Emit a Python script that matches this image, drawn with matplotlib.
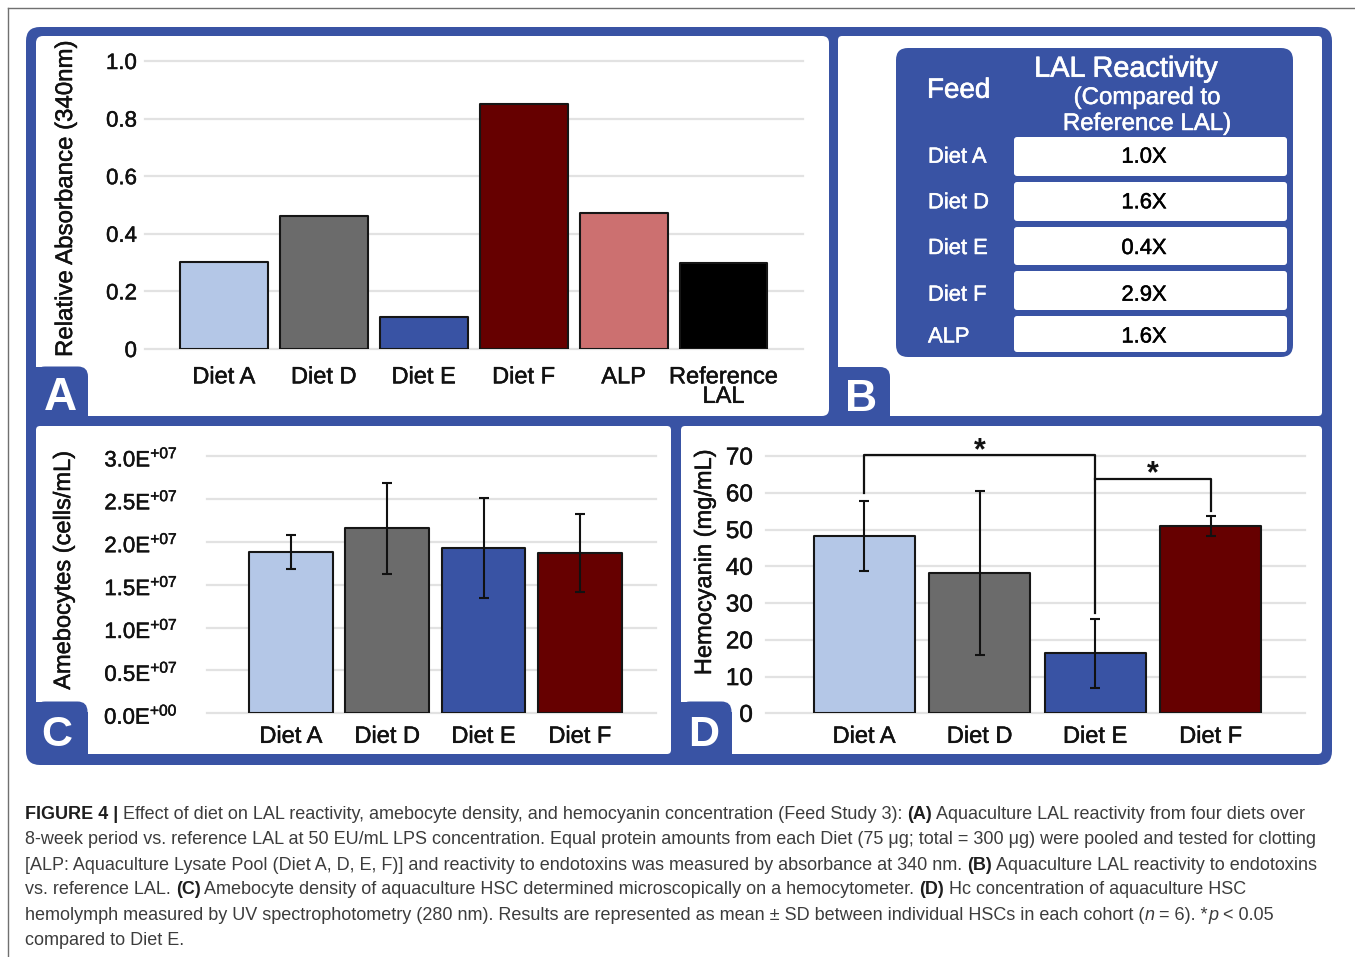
import matplotlib
matplotlib.use("Agg")
import matplotlib.pyplot as plt
from matplotlib.patches import FancyBboxPatch, Rectangle
import matplotlib.patheffects as pe

# ---------------- data ----------------
a_categories = ["Diet A", "Diet D", "Diet E", "Diet F", "ALP", "Reference\nLAL"]
a_values = [0.302, 0.462, 0.112, 0.851, 0.473, 0.297]
a_yticks = [0, 0.2, 0.4, 0.6, 0.8, 1.0]
a_yticklabels = ["0", "0.2", "0.4", "0.6", "0.8", "1.0"]

b_feeds = ["Diet A", "Diet D", "Diet E", "Diet F", "ALP"]
b_reactivity = ["1.0X", "1.6X", "0.4X", "2.9X", "1.6X"]

c_categories = ["Diet A", "Diet D", "Diet E", "Diet F"]
c_values = [1.884e7, 2.157e7, 1.930e7, 1.872e7]
c_errors = [0.20e7, 0.53e7, 0.585e7, 0.456e7]
c_yticks = [0, 0.5e7, 1.0e7, 1.5e7, 2.0e7, 2.5e7, 3.0e7]
c_yticklabels = ["0.0E$^{+00}$", "0.5E$^{+07}$", "1.0E$^{+07}$", "1.5E$^{+07}$",
                 "2.0E$^{+07}$", "2.5E$^{+07}$", "3.0E$^{+07}$"]

d_categories = ["Diet A", "Diet D", "Diet E", "Diet F"]
d_values = [48.3, 38.1, 16.3, 51.0]
d_errors = [9.5, 22.3, 9.3, 2.8]
d_yticks = [0, 10, 20, 30, 40, 50, 60, 70]

colors_a = ["#b4c7e7", "#6b6b6b", "#3953a4", "#660000", "#cc7070", "#000000"]
colors_cd = ["#b4c7e7", "#6b6b6b", "#3953a4", "#660000"]
BLUE = "#3953a4"
INK = "#111111"

# ---------------- figure setup ----------------
W, H = 1355, 957
plt.rcParams["font.family"] = ["Liberation Sans", "DejaVu Sans"]
plt.rcParams["mathtext.fontset"] = "custom"
plt.rcParams["mathtext.rm"] = "Liberation Sans"
plt.rcParams["mathtext.it"] = "Liberation Sans:italic"
plt.rcParams["mathtext.bf"] = "Liberation Sans:bold"

fig = plt.figure(figsize=(W / 100, H / 100), dpi=100)
fig.patch.set_facecolor("white")

bg = fig.add_axes([0, 0, 1, 1])
bg.set_xlim(0, W)
bg.set_ylim(H, 0)
bg.axis("off")
bg.set_zorder(0)


def heavy(color, lw=0.35):
    return [pe.withStroke(linewidth=lw, foreground=color)]


# thin outer page border
bg.plot([8, 8], [H, 8], color="#707070", lw=1)
bg.plot([8, W], [8, 8], color="#707070", lw=1)


def rbox(x0, y0, x1, y1, r, color, z=1):
    p = FancyBboxPatch((x0, y0), x1 - x0, y1 - y0,
                       boxstyle=f"round,pad=0,rounding_size={r}",
                       fc=color, ec="none", zorder=z)
    bg.add_patch(p)


# blue frame
rbox(26, 27, 1332, 765, 14, BLUE, 1)
# white panels
rbox(36, 36, 829, 416, 7, "white", 2)
rbox(838, 36, 1322, 416, 4, "white", 2)
rbox(36, 426, 671, 754, 4, "white", 2)
rbox(681, 426, 1322, 754, 4, "white", 2)


def label_box(x0, y0, x1, y1, letter, cx, base, size):
    r = 10
    rbox(x0, y0, x1, y1, r, BLUE, 3)
    bg.add_patch(Rectangle((x0, y0 + r), x1 - x0, y1 - y0 - r, fc=BLUE, ec="none", zorder=3))
    bg.add_patch(Rectangle((x0, y0), x1 - x0 - r, y1 - y0, fc=BLUE, ec="none", zorder=3))
    bg.text(cx, base, letter, color="white", fontsize=size, fontweight="bold",
            ha="center", va="baseline", zorder=4)


label_box(35, 366.5, 88, 417, "A", 60, 410.5, 33)
label_box(837, 367, 890, 417, "B", 861, 411, 32)
label_box(35, 701.5, 87.5, 755, "C", 56.5, 745.5, 31)
label_box(680, 701.5, 731.5, 755, "D", 703.5, 745.5, 31)


def px_axes(gx0, gx1, py_lo, py_hi):
    ax = fig.add_axes([gx0 / W, 1 - py_lo / H, (gx1 - gx0) / W, (py_lo - py_hi) / H])
    ax.set_zorder(5)
    ax.patch.set_alpha(0)
    for s in ax.spines.values():
        s.set_visible(False)
    return ax


def style(ax, yticks, yticklabels, xlabels, ytick_fs, xtick_fs, ypad, xpad):
    ax.set_yticks(yticks)
    ax.set_yticklabels(yticklabels)
    ax.set_xticks(range(len(xlabels)))
    ax.set_xticklabels(xlabels, linespacing=0.85)
    ax.tick_params(axis="y", length=0, labelsize=ytick_fs, pad=ypad, colors=INK)
    ax.tick_params(axis="x", length=0, labelsize=xtick_fs, pad=xpad, colors=INK)
    ax.yaxis.grid(True, color="#e2e2e2", lw=1.6)
    ax.set_axisbelow(True)
    for gl in ax.get_ygridlines():
        gl.set_clip_on(False)
    for t in ax.get_xticklabels() + ax.get_yticklabels():
        t.set_path_effects(heavy(INK))


def draw_bars(ax, vals, cols, width):
    bars = ax.bar(range(len(vals)), vals, width=width, color=cols,
                  edgecolor="#161616", linewidth=1.5, zorder=3)
    for b in bars:
        b.set_joinstyle("round")
    return bars


# ---------------- panel A ----------------
axA = px_axes(145, 803, 349, 61)
axA.set_xlim(-0.79, 5.796)
axA.set_ylim(0, 1.0)
draw_bars(axA, a_values, colors_a, 0.88)
style(axA, a_yticks, a_yticklabels, a_categories, 16, 17, 5.8, 12.5)
bg.text(66, 199, "Relative Absorbance (340nm)", rotation=90, ha="center", va="center",
        fontsize=17.3, color=INK, zorder=6, path_effects=heavy(INK))

# ---------------- panel B (table) ----------------
rbox(896, 48, 1293, 357, 12, BLUE, 3)
row_tops = [137, 182, 227, 271, 316]
row_bots = [176, 221, 265, 310, 352]
row_base = [162.7, 208.3, 254, 300.7, 342.5]
for i, (feed, val) in enumerate(zip(b_feeds, b_reactivity)):
    rbox(1014, row_tops[i], 1287, row_bots[i], 3, "white", 4)
    bg.text(928, row_base[i], feed, color="white", fontsize=15.8, ha="left", va="baseline",
            zorder=5, path_effects=heavy("white"))
    bg.text(1144, row_base[i], val, color="black", fontsize=15.8, ha="center", va="baseline",
            zorder=5, path_effects=heavy("black"))
bg.text(927, 97.7, "Feed", color="white", fontsize=20, ha="left", va="baseline", zorder=5,
        path_effects=heavy("white", 0.5))
bg.text(1126, 76.7, "LAL Reactivity", color="white", fontsize=20.8, ha="center", va="baseline",
        zorder=5, path_effects=heavy("white", 0.5))
bg.text(1147, 104, "(Compared to", color="white", fontsize=17.3, ha="center", va="baseline",
        zorder=5, path_effects=heavy("white"))
bg.text(1147, 130, "Reference LAL)", color="white", fontsize=17.3, ha="center", va="baseline",
        zorder=5, path_effects=heavy("white"))

# ---------------- panel C ----------------
axC = px_axes(207, 656, 713.3, 456)
axC.set_xlim(-0.872, 3.79)
axC.set_ylim(0, 3.0e7)
draw_bars(axC, c_values, colors_cd, 0.87)
axC.errorbar(range(len(c_values)), c_values, yerr=c_errors, fmt="none", ecolor=INK,
             elinewidth=1.5, capsize=3.5, capthick=1.5, zorder=4)
style(axC, c_yticks, c_yticklabels, c_categories, 16, 17, 21, 9)
bg.text(64, 570, "Amebocytes (cells/mL)", rotation=90, ha="center", va="center",
        fontsize=17, color=INK, zorder=6, path_effects=heavy(INK))

# ---------------- panel D ----------------
axD = px_axes(766, 1305, 713.3, 456)
axD.set_xlim(-0.85, 3.816)
axD.set_ylim(0, 70)
draw_bars(axD, d_values, colors_cd, 0.876)
axD.errorbar(range(len(d_values)), d_values, yerr=d_errors, fmt="none", ecolor=INK,
             elinewidth=1.5, capsize=3.5, capthick=1.5, zorder=4)
style(axD, d_yticks, [str(v) for v in d_yticks], d_categories, 17.5, 17, 9.4, 9)
bg.text(705, 562, "Hemocyanin (mg/mL)", rotation=90, ha="center", va="center",
        fontsize=17, color=INK, zorder=6, path_effects=heavy(INK))
# significance brackets
axD.plot([0, 0, 2, 2], [60.0, 70.2, 70.2, 27.4], color=INK, lw=1.6, clip_on=False, zorder=5)
axD.plot([2, 3, 3], [63.7, 63.7, 55.1], color=INK, lw=1.6, clip_on=False, zorder=5)
axD.text(1.0, 69.0, "*", ha="center", va="baseline", fontsize=22, fontweight="bold",
         color=INK, clip_on=False)
axD.text(2.5, 62.8, "*", ha="center", va="baseline", fontsize=22, fontweight="bold",
         color=INK, clip_on=False)

# ---------------- caption ----------------
N, B, I = ("normal", "normal"), ("bold", "normal"), ("normal", "italic")
caption_lines = [
    [("FIGURE 4 |", B), (" Effect of diet on LAL reactivity, amebocyte density, and hemocyanin "
                         "concentration (Feed Study 3): ", N), ("(A)", B),
     (" Aquaculture LAL reactivity from four diets over", N)],
    [("8-week period vs. reference LAL at 50 EU/mL LPS concentration. Equal protein amounts "
      "from each Diet (75 μg; total = 300 μg) were pooled and tested for clotting", N)],
    [("[ALP: Aquaculture Lysate Pool (Diet A, D, E, F)] and reactivity to endotoxins was "
      "measured by absorbance at 340 nm. ", N), ("(B)", B),
     (" Aquaculture LAL reactivity to endotoxins", N)],
    [("vs. reference LAL. ", N), ("(C)", B),
     (" Amebocyte density of aquaculture HSC determined microscopically on a hemocytometer. ", N),
     ("(D)", B), (" Hc concentration of aquaculture HSC", N)],
    [("hemolymph measured by UV spectrophotometry (280 nm). Results are represented as mean ± SD "
      "between individual HSCs in each cohort (", N), ("n", I), (" = 6). *", N), ("p", I),
     (" < 0.05", N)],
    [("compared to Diet E.", N)],
]
caption_base = [819, 844, 869.5, 894.5, 920, 945]

renderer = fig.canvas.get_renderer()


def seg_width(txt, size, weight, st):
    t1 = bg.text(0, 0, "|" + txt + "|", fontsize=size, fontweight=weight, fontstyle=st)
    t2 = bg.text(0, 0, "||", fontsize=size, fontweight=weight, fontstyle=st)
    w = t1.get_window_extent(renderer).width - t2.get_window_extent(renderer).width
    t1.remove()
    t2.remove()
    return w


# fit size so that the first line spans the reference width
base_size = 12.0
w1 = sum(seg_width(t, base_size, s[0], s[1]) for t, s in caption_lines[0])
cap_size = base_size * 1287.0 / w1

for segs, yb in zip(caption_lines, caption_base):
    x = 25
    for txt, (wt, st) in segs:
        col = "#1e1e1e" if wt == "bold" else "#3c3c3c"
        bg.text(x, yb, txt, fontsize=cap_size, fontweight=wt, fontstyle=st,
                ha="left", va="baseline", color=col, zorder=5)
        x += seg_width(txt, cap_size, wt, st)

fig.savefig("out.png", dpi=100, facecolor="white")
